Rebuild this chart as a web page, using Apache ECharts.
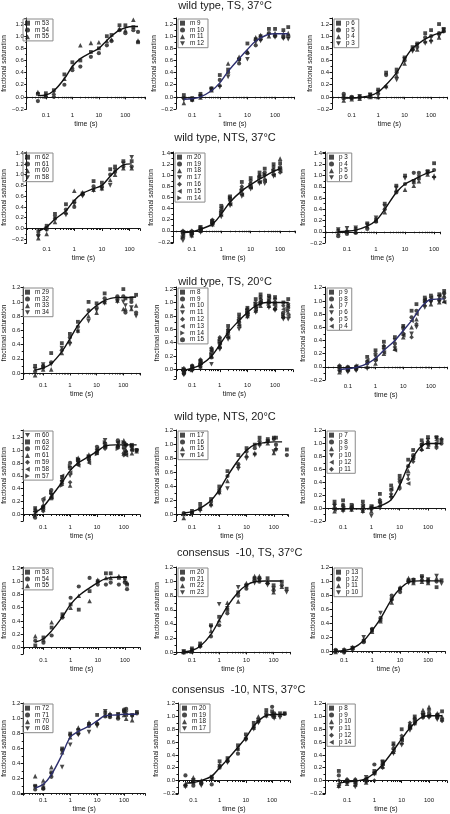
<!DOCTYPE html>
<html><head><meta charset="utf-8">
<script src="https://cdn.jsdelivr.net/npm/echarts@6/dist/echarts.min.js"></script>
<style>html,body{margin:0;padding:0;background:#fff}#c{width:450px;height:814px}</style>
</head><body><div id="c"></div>
<script>
// ---------------- DATA ----------------
const rowTitles = ['wild type, TS, 37°C','wild type, NTS, 37°C','wild type, TS, 20°C','wild type, NTS, 20°C','consensus  -10, TS, 37°C','consensus  -10, NTS, 37°C'];
const xTickLabels = [0.1, 1, 10, 100];

const r1c1Names = ['m 53','m 54','m 55'];
const r1c1Times = [0.05,0.1,0.2,0.5,1,2,5,10,20,30,60,100,200,300];
const r1c1Vals = [
 [0.05,0.06,0.11,0.37,0.57,0.6,0.74,0.8,1.0,1.02,1.18,1.18,1.15,0.9],
 [-0.07,0.0,0.0,0.2,0.44,0.5,0.66,0.72,0.85,0.92,1.1,1.05,1.1,1.07],
 [0.08,0.03,0.07,0.3,0.5,0.85,0.89,0.9,0.92,0.95,1.12,1.1,1.27,0.93]];
const r1c1FitT = [0.05,0.1,0.2,0.5,1,2,5,10,20,50,100,200,300];
const r1c1FitY = [0.02,0.03,0.1,0.3,0.5,0.63,0.73,0.8,0.93,1.08,1.14,1.16,1.16];

const r1c2Names = ['m 9','m 10','m 11','m 12'];
const r1c2Times = [0.05,0.1,0.2,0.5,1,2,5,10,20,30,60,100,200,300];
const r1c2Vals = [
 [0.03,-0.02,0.05,0.12,0.36,0.45,0.62,0.88,0.95,1.0,1.12,1.12,1.1,1.15],
 [-0.02,-0.05,0.02,0.14,0.28,0.4,0.55,0.72,0.85,0.95,1.05,1.0,0.98,1.0],
 [-0.1,-0.04,-0.01,0.11,0.2,0.55,0.66,0.75,0.98,1.02,1.0,1.05,1.04,1.05],
 [-0.05,-0.06,0.0,0.13,0.16,0.33,0.6,0.62,0.9,0.92,1.02,0.98,0.96,0.95]];
const r1c2FitT = [0.05,0.1,0.2,0.5,1,2,5,10,20,50,100,300];
const r1c2FitY = [-0.04,-0.03,0.0,0.1,0.23,0.42,0.63,0.78,0.92,1.02,1.04,1.04];

const r1c3Names = ['p 6','p 5','p 4','p 3'];
const r1c3Times = [0.05,0.1,0.2,0.5,1,2,5,10,20,30,60,100,200,300];
const r1c3Vals = [
 [-0.02,-0.02,-0.01,0.04,0.12,0.4,0.45,0.65,0.82,0.88,1.05,1.1,1.2,1.12],
 [0.05,0.0,0.0,0.01,0.05,0.36,0.4,0.6,0.78,0.82,0.98,1.0,1.05,1.08],
 [-0.06,-0.04,-0.03,0.0,0.0,0.18,0.35,0.55,0.8,0.78,0.92,0.95,0.98,1.1],
 [0.0,-0.02,0.01,0.03,0.08,0.15,0.28,0.62,0.75,0.85,0.88,0.9,1.0,1.1]];
const r1c3FitT = [0.05,0.1,0.2,0.5,1,2,5,10,20,50,100,200,300];
const r1c3FitY = [-0.02,-0.02,-0.01,0.02,0.08,0.2,0.4,0.62,0.8,0.93,1.0,1.05,1.07];

const r2c1Names = ['m 62','m 61','m 60','m 58'];
const r2c1Times = [0.05,0.1,0.2,0.5,1,2,5,10,20,30,60,120];
const r2c1Vals = [
 [-0.05,0.05,0.27,0.45,0.5,0.65,0.88,0.85,1.1,1.15,1.25,1.25],
 [-0.12,-0.02,0.18,0.35,0.4,0.63,0.78,0.78,1.0,1.05,1.15,1.15],
 [-0.18,-0.1,0.12,0.3,0.7,0.67,0.72,0.75,0.9,1.0,1.12,1.12],
 [-0.15,0.0,0.2,0.25,0.45,0.6,0.7,0.73,0.8,1.08,1.2,1.32]];
const r2c1FitT = [0.05,0.1,0.2,0.5,1,2,5,10,20,30,60,120];
const r2c1FitY = [-0.05,0.03,0.17,0.33,0.52,0.65,0.74,0.8,0.97,1.06,1.18,1.2];

const r2c2Names = ['m 20','m 19','m 18','m 17','m 16','m 15','m 14'];
const r2c2Times = [0.05,0.1,0.2,0.5,1,2,5,10,20,30,60,100];
const r2c2Vals = [
 [-0.02,-0.02,0.07,0.18,0.45,0.62,0.88,0.95,1.05,1.12,1.2,1.22],
 [-0.05,-0.05,0.03,0.15,0.38,0.55,0.75,0.85,0.98,1.05,1.1,1.15],
 [-0.1,-0.08,0.0,0.12,0.3,0.5,0.7,0.8,0.9,0.95,1.05,1.3],
 [-0.18,-0.1,-0.03,0.1,0.25,0.45,0.62,0.75,0.85,0.85,0.98,1.1],
 [0.0,0.0,0.05,0.2,0.35,0.58,0.8,0.9,1.0,1.0,1.15,1.05],
 [-0.08,-0.03,0.02,0.14,0.42,0.48,0.65,0.78,0.88,0.9,1.0,1.08],
 [-0.12,-0.06,0.06,0.16,0.32,0.6,0.72,0.82,0.95,1.02,1.08,1.12]];
const r2c2FitT = [0.05,0.1,0.2,0.5,1,2,5,10,20,50,100];
const r2c2FitY = [-0.03,-0.02,0.03,0.12,0.3,0.52,0.72,0.83,0.93,1.05,1.12];

const r2c3Names = ['p 3','p 4','p 5','p 6'];
const r2c3Times = [0.05,0.1,0.2,0.5,1,2,5,10,20,30,60,100];
const r2c3Vals = [
 [0.02,0.0,0.05,0.15,0.22,0.5,0.82,1.0,0.88,0.95,1.08,1.22],
 [-0.08,-0.04,-0.02,0.05,0.18,0.4,0.7,0.85,1.05,1.05,1.05,1.1],
 [-0.02,0.02,0.0,0.1,0.2,0.35,0.75,0.75,0.82,0.9,1.02,1.0],
 [0.04,0.06,0.07,0.12,0.25,0.45,0.78,0.95,0.9,0.98,1.06,0.95]];
const r2c3FitT = [0.05,0.1,0.2,0.5,1,2,5,10,20,50,100];
const r2c3FitY = [0.0,0.01,0.03,0.1,0.2,0.4,0.7,0.85,0.93,1.03,1.08];

const r3c1Names = ['m 29','m 32','m 33','m 34'];
const r3c1Times = [0.05,0.1,0.2,0.5,1,2,5,10,20,60,100,120,200,300];
const r3c1Vals = [
 [0.1,0.08,0.28,0.42,0.55,0.72,1.0,0.98,1.12,1.05,1.18,1.05,1.05,1.1],
 [0.02,0.1,0.15,0.32,0.5,0.65,0.88,0.92,1.05,1.08,1.08,0.85,1.0,0.85],
 [-0.03,0.05,0.05,0.28,0.45,0.6,0.8,0.85,1.0,1.02,0.9,0.9,0.9,0.95],
 [0.05,0.12,0.12,0.35,0.4,0.58,0.73,0.88,0.98,1.0,1.0,0.95,0.92,0.8]];
const r3c1FitT = [0.05,0.1,0.2,0.5,1,2,5,10,20,50,100,300];
const r3c1FitY = [0.04,0.07,0.13,0.3,0.48,0.67,0.85,0.95,1.02,1.06,1.06,1.07];

const r3c2Names = ['m 8','m 9','m 10','m 11','m 12','m 13','m 14','m 15'];
const r3c2Times = [0.05,0.1,0.2,0.5,1,2,5,10,20,30,60,100,200,300];
const r3c2Vals = [
 [-0.01,0.05,0.12,0.3,0.45,0.65,0.82,0.92,1.05,1.12,1.1,1.08,1.0,1.05],
 [-0.05,0.0,0.08,0.25,0.38,0.55,0.75,0.85,0.95,1.0,1.0,1.0,0.85,0.92],
 [0.0,0.03,0.05,0.2,0.35,0.5,0.68,0.8,0.88,0.95,0.95,0.92,0.8,0.85],
 [-0.08,-0.02,0.02,0.08,0.3,0.45,0.6,0.78,0.85,0.98,0.92,0.88,0.75,0.75],
 [0.02,0.06,0.15,0.32,0.48,0.6,0.78,0.9,1.0,1.05,1.05,1.05,0.95,0.98],
 [-0.03,0.02,0.1,0.28,0.4,0.48,0.65,0.82,0.9,1.02,1.08,0.95,0.9,0.8],
 [0.01,-0.01,0.07,0.22,0.42,0.52,0.72,0.88,0.98,0.97,0.98,0.98,0.82,0.88],
 [-0.06,0.04,0.13,0.18,0.33,0.58,0.7,0.84,0.93,1.08,1.02,0.9,0.78,0.95]];
const r3c2FitT = [0.05,0.1,0.2,0.5,1,2,5,10,20,50,100,300];
const r3c2FitY = [-0.01,0.02,0.07,0.2,0.37,0.55,0.73,0.85,0.95,1.0,1.0,1.0];

const r3c3Names = ['p 9','p 8','p 7','p 6','p 5','p 4'];
const r3c3Times = [0.05,0.1,0.2,0.5,1,2,5,10,20,30,60,100,200,300];
const r3c3Vals = [
 [0.0,-0.01,0.0,0.15,0.25,0.38,0.45,0.62,0.85,0.95,1.05,1.08,1.1,1.15],
 [-0.05,-0.06,-0.04,0.05,0.1,0.3,0.35,0.5,0.75,0.85,1.0,1.0,1.02,1.05],
 [-0.08,-0.03,0.02,0.0,0.05,0.2,0.28,0.45,0.6,0.72,0.95,0.95,0.98,1.0],
 [-0.03,-0.08,-0.06,-0.03,0.15,0.25,0.4,0.55,0.5,0.6,0.9,0.98,1.05,1.08],
 [0.02,0.0,-0.02,0.08,0.2,0.32,0.3,0.6,0.45,0.65,0.98,1.02,1.0,1.12],
 [-0.06,-0.04,0.01,0.1,0.12,0.22,0.25,0.48,0.7,0.8,1.02,1.05,1.08,0.98]];
const r3c3FitT = [0.05,0.1,0.2,0.5,1,2,5,10,20,50,100,300];
const r3c3FitY = [-0.04,-0.03,-0.01,0.05,0.13,0.25,0.4,0.55,0.7,0.93,1.02,1.03];

const r4c1Names = ['m 60','m 63','m 62','m 61','m 59','m 58','m 57'];
const r4c1Times = [0.05,0.1,0.2,0.5,1,2,5,10,20,60,100,120,200,300];
const r4c1Vals = [
 [0.02,0.2,0.3,0.5,0.6,0.8,0.82,0.98,1.15,1.1,1.0,1.05,1.02,0.98],
 [0.1,0.12,0.25,0.58,0.72,0.85,0.9,0.95,1.05,1.05,1.05,0.95,1.08,1.0],
 [-0.05,0.08,0.38,0.48,0.8,0.78,0.88,1.05,1.1,1.15,0.95,1.08,1.0,1.0],
 [0.08,0.15,0.28,0.55,0.45,0.88,0.93,1.0,1.08,1.08,1.15,1.0,0.95,0.98],
 [0.0,0.05,0.32,0.52,0.5,0.82,0.85,0.97,1.02,1.05,0.92,0.98,1.05,null],
 [0.05,0.25,0.27,0.6,0.65,0.76,0.8,1.02,1.06,1.12,1.1,0.92,1.0,null],
 [-0.02,0.1,0.35,0.45,0.75,0.86,0.9,0.94,1.12,1.02,1.12,1.1,1.07,null]];
const r4c1FitT = [0.05,0.1,0.2,0.5,1,2,5,10,20,50,100,300];
const r4c1FitY = [0.03,0.12,0.28,0.5,0.68,0.8,0.9,0.98,1.06,1.08,1.08,1.08];

const r4c2Names = ['m 17','m 16','m 15','m 14'];
const r4c2Times = [0.05,0.1,0.2,0.5,1,2,5,10,20,30,60,100,120,300];
const r4c2Vals = [
 [0.0,0.05,0.15,0.22,0.4,0.62,0.85,0.95,1.0,1.1,1.08,1.1,1.1,0.93],
 [0.02,0.02,0.1,0.18,0.35,0.55,0.72,0.9,0.95,1.05,1.05,1.08,1.0,0.85],
 [-0.05,0.03,0.08,0.15,0.32,0.48,0.7,0.85,0.88,1.02,1.02,0.88,0.95,null],
 [-0.1,0.0,0.05,0.12,0.3,0.37,0.65,0.8,0.85,0.98,1.04,0.9,0.92,null]];
const r4c2FitT = [0.05,0.1,0.2,0.5,1,2,5,10,20,50,100,200];
const r4c2FitY = [0.02,0.04,0.09,0.2,0.35,0.55,0.78,0.92,1.0,1.03,1.04,1.04];

const r4c3Names = ['p 7','p 8','p 9','p 10','p 12','p 11'];
const r4c3Times = [0.05,0.1,0.2,0.5,1,2,5,10,20,30,60,100,200,300];
const r4c3Vals = [
 [0.1,0.12,0.05,0.1,0.03,0.22,0.35,0.5,0.75,0.9,1.05,1.1,1.1,1.05],
 [0.0,0.05,0.0,0.0,0.0,0.1,0.28,0.45,0.65,0.82,0.98,1.0,1.0,1.0],
 [-0.05,-0.02,-0.02,-0.04,-0.05,0.05,0.2,0.35,0.58,0.78,0.92,0.95,0.98,null],
 [0.03,-0.05,-0.03,-0.06,-0.12,0.0,0.15,0.38,0.5,0.75,0.95,1.05,1.08,null],
 [-0.02,0.0,0.03,0.03,0.02,0.08,0.3,0.42,0.38,0.8,1.0,0.98,1.05,null],
 [0.06,0.03,0.01,0.05,-0.02,0.13,0.22,0.3,0.45,0.72,0.9,1.03,0.93,1.07]];
const r4c3FitT = [0.05,0.1,0.2,0.5,1,2,5,10,20,50,100,300];
const r4c3FitY = [-0.01,-0.01,-0.01,-0.01,0.0,0.03,0.13,0.35,0.65,0.93,1.0,1.0];

const r5c1Names = ['m 53','m 54','m 55'];
const r5c1Times = [0.05,0.1,0.2,0.5,1,2,5,10,20,30,60,100,120];
const r5c1Vals = [
 [0.03,0.15,0.3,0.5,0.65,0.57,0.85,1.0,1.12,1.12,1.05,1.05,0.95],
 [0.1,0.07,0.18,0.45,0.75,0.92,1.05,0.95,0.95,0.98,0.95,0.98,0.88],
 [0.17,0.12,0.38,0.48,0.6,0.78,0.7,1.02,1.05,1.05,1.08,1.02,0.98]];
const r5c1FitT = [0.05,0.1,0.2,0.5,1,2,5,10,20,50,120];
const r5c1FitY = [0.08,0.13,0.25,0.46,0.65,0.78,0.9,0.98,1.04,1.06,1.06];

const r5c2Names = ['m 20','m 21','m 22','m 23'];
const r5c2Times = [0.05,0.1,0.2,0.5,1,2,5,10,20,30,60,100,200,300];
const r5c2Vals = [
 [0.01,0.05,0.12,0.38,0.5,0.6,0.85,0.95,1.05,1.05,1.05,0.95,1.0,0.9],
 [-0.01,0.0,0.08,0.22,0.38,0.55,0.8,0.9,1.02,1.0,0.98,0.88,0.95,null],
 [0.0,0.03,0.1,0.3,0.45,0.7,0.72,0.98,1.08,1.08,1.0,0.85,0.93,null],
 [0.0,0.02,0.07,0.35,0.68,0.62,0.92,0.93,0.98,1.02,0.95,0.9,null,0.85]];
const r5c2FitT = [0.05,0.1,0.2,0.5,1,2,5,10,20,50,100,200];
const r5c2FitY = [0.0,0.02,0.08,0.25,0.45,0.65,0.85,0.95,1.0,1.01,1.01,1.01];

const r5c3Names = ['p 13','p 12','p 11','p 10'];
const r5c3Times = [0.05,0.1,0.2,0.5,1,2,5,10,20,30,60,100,200,300];
const r5c3Vals = [
 [0.0,0.0,0.05,0.15,0.3,0.45,0.75,0.9,1.02,1.0,1.08,1.0,0.92,1.02],
 [0.02,-0.02,0.03,0.13,0.32,0.48,0.8,0.85,1.0,1.03,1.02,1.02,1.0,null],
 [-0.01,0.03,0.06,0.17,0.28,0.43,0.7,0.92,1.05,0.98,1.0,0.98,1.05,null],
 [0.0,0.01,0.04,0.2,0.3,0.55,0.72,0.88,0.98,1.02,1.05,1.03,1.08,0.97]];
const r5c3FitT = [0.05,0.1,0.2,0.5,1,2,5,10,20,50,100,300];
const r5c3FitY = [0.0,0.01,0.04,0.15,0.3,0.47,0.75,0.9,0.99,1.01,1.01,1.01];

const r6c1Names = ['m 72','m 71','m 70','m 68'];
const r6c1Times = [0.05,0.1,0.2,0.5,1,2,5,10,20,30,60,100,120,200,300];
const r6c1Vals = [
 [0.1,0.07,0.28,0.6,0.8,0.85,0.93,1.05,1.08,1.05,1.05,1.1,1.05,1.05,1.09],
 [0.05,0.06,0.22,0.58,0.78,0.8,0.9,0.93,1.03,1.02,1.0,1.12,1.13,null,1.07],
 [0.23,0.17,0.35,0.55,0.75,0.88,0.95,0.95,1.05,1.07,1.03,1.05,1.0,0.98,null],
 [0.08,0.1,0.25,0.35,0.65,0.78,0.82,0.9,1.1,1.03,1.06,1.08,1.08,1.02,null]];
const r6c1FitT = [0.05,0.1,0.2,0.5,1,2,5,10,20,50,100,300];
const r6c1FitY = [0.07,0.12,0.25,0.52,0.75,0.83,0.9,0.97,1.04,1.05,1.06,1.06];

const r6c2Names = ['m 20','m 19','m 18','m 17'];
const r6c2Times = [0.05,0.1,0.2,0.5,1,2,5,10,20,30,60,100,120,200,300];
const r6c2Vals = [
 [-0.08,-0.03,-0.02,0.06,0.3,0.35,0.55,0.72,0.9,0.95,1.1,1.08,1.02,1.05,1.05],
 [0.08,-0.08,-0.05,-0.06,0.2,0.3,0.42,0.65,0.85,0.92,1.05,1.15,1.05,null,1.04],
 [-0.05,0.05,0.0,0.05,0.25,0.33,0.5,0.68,0.83,1.0,1.02,1.05,1.0,1.03,null],
 [-0.1,0.0,-0.08,0.02,0.22,0.28,0.48,0.63,0.8,0.9,1.0,1.0,0.97,0.98,null]];
const r6c2FitT = [0.05,0.1,0.2,0.5,1,2,5,10,20,50,100,300];
const r6c2FitY = [-0.04,-0.03,0.0,0.07,0.2,0.33,0.52,0.67,0.85,1.0,1.03,1.03];

const r6c3Names = ['p 8','p 9','p 10','p 11','p 12','p 14'];
const r6c3Times = [0.05,0.1,0.2,0.5,1,2,5,10,20,30,60,100,200,300];
const r6c3Vals = [
 [0.15,-0.02,-0.03,0.02,0.15,0.3,0.58,0.8,0.85,1.0,1.0,1.05,1.02,1.08],
 [0.08,0.0,0.0,0.0,0.25,0.25,0.5,0.65,0.82,0.95,1.05,1.0,0.98,0.95],
 [-0.08,-0.05,-0.06,-0.03,0.12,0.22,0.45,0.6,0.88,0.9,1.1,1.15,1.05,1.0],
 [-0.1,-0.03,-0.1,0.05,0.1,0.28,0.42,0.55,0.78,0.88,1.02,0.98,0.95,null],
 [0.0,0.02,0.02,-0.02,0.0,0.2,0.55,0.7,0.9,0.97,0.98,1.1,1.0,0.93],
 [-0.05,-0.01,-0.04,0.03,0.13,0.26,0.48,0.63,0.83,0.92,1.03,1.02,1.03,null]];
const r6c3FitT = [0.05,0.1,0.2,0.5,1,2,5,10,20,50,100,300];
const r6c3FitY = [-0.04,-0.02,-0.01,0.03,0.12,0.25,0.47,0.65,0.82,0.98,1.01,1.01];

// ---------------- LAYOUT / STYLE ----------------
const SQ='rect', CI='circle', TR='triangle', DI='diamond', HX='circle';
const DT='path://M0,0L10,0L5,9Z', LT='path://M9,0L9,10L0,5Z', RT='path://M0,0L9,5L0,10Z';
const SYM_DEFAULT=[SQ,CI,TR,DT,DI,LT,RT,HX];
const NAVY='#2c2e6e', BLK='#111';
const panels = [
 {id:'r1c1',n:r1c1Names,t:r1c1Times,v:r1c1Vals,ft:r1c1FitT,fy:r1c1FitY,g:[21,18,145,109],x:[0.019,550],y:[-0.2,1.3]},
 {id:'r1c2',n:r1c2Names,t:r1c2Times,v:r1c2Vals,ft:r1c2FitT,fy:r1c2FitY,g:[176,18,294,109],x:[0.026,485],y:[-0.2,1.3],lc:NAVY},
 {id:'r1c3',n:r1c3Names,t:r1c3Times,v:r1c3Vals,ft:r1c3FitT,fy:r1c3FitY,g:[332,18,447,109],x:[0.018,400],y:[-0.2,1.3]},
 {id:'r2c1',n:r2c1Names,t:r2c1Times,v:r2c1Vals,ft:r2c1FitT,fy:r2c1FitY,g:[21,152,140,243],x:[0.019,240],y:[-0.27,1.42]},
 {id:'r2c2',n:r2c2Names,t:r2c2Times,v:r2c2Vals,ft:r2c2FitT,fy:r2c2FitY,g:[173,152,295,243],x:[0.023,320],y:[-0.22,1.42]},
 {id:'r2c3',n:r2c3Names,t:r2c3Times,v:r2c3Vals,ft:r2c3FitT,fy:r2c3FitY,g:[325,152,440,243],x:[0.0175,160],y:[-0.2,1.42]},
 {id:'r3c1',n:r3c1Names,t:r3c1Times,v:r3c1Vals,ft:r3c1FitT,fy:r3c1FitY,g:[21,287,140,379],x:[0.018,420],y:[-0.085,1.21]},
 {id:'r3c2',n:r3c2Names,t:r3c2Times,v:r3c2Vals,ft:r3c2FitT,fy:r3c2FitY,g:[176,287,293,379],x:[0.026,447],y:[-0.14,1.23]},
 {id:'r3c3',n:r3c3Names,t:r3c3Times,v:r3c3Vals,ft:r3c3FitT,fy:r3c3FitY,g:[325,287,447,380],x:[0.015,380],y:[-0.2,1.21],lc:NAVY},
 {id:'r4c1',n:r4c1Names,t:r4c1Times,v:r4c1Vals,ft:r4c1FitT,fy:r4c1FitY,g:[21,430,140,521],x:[0.018,400],y:[-0.1,1.31],sym:[DT,SQ,CI,TR,DI,LT,RT]},
 {id:'r4c2',n:r4c2Names,t:r4c2Times,v:r4c2Vals,ft:r4c2FitT,fy:r4c2FitY,g:[176,430,288,521],x:[0.026,330],y:[-0.095,1.21]},
 {id:'r4c3',n:r4c3Names,t:r4c3Times,v:r4c3Vals,ft:r4c3FitT,fy:r4c3FitY,g:[325,430,445,521],x:[0.023,400],y:[-0.2,1.21],sym:[SQ,CI,TR,DT,LT,DI]},
 {id:'r5c1',n:r5c1Names,t:r5c1Times,v:r5c1Vals,ft:r5c1FitT,fy:r5c1FitY,g:[21,567,140,654],x:[0.018,360],y:[-0.1,1.215]},
 {id:'r5c2',n:r5c2Names,t:r5c2Times,v:r5c2Vals,ft:r5c2FitT,fy:r5c2FitY,g:[176,567,290,654],x:[0.026,400],y:[-0.03,1.21]},
 {id:'r5c3',n:r5c3Names,t:r5c3Times,v:r5c3Vals,ft:r5c3FitT,fy:r5c3FitY,g:[332,567,445,654],x:[0.037,400],y:[-0.04,1.21]},
 {id:'r6c1',n:r6c1Names,t:r6c1Times,v:r6c1Vals,ft:r6c1FitT,fy:r6c1FitY,g:[21,703,145,798],x:[0.018,600],y:[-0.01,1.21],lc:NAVY},
 {id:'r6c2',n:r6c2Names,t:r6c2Times,v:r6c2Vals,ft:r6c2FitT,fy:r6c2FitY,g:[178,703,290,798],x:[0.026,480],y:[-0.21,1.21]},
 {id:'r6c3',n:r6c3Names,t:r6c3Times,v:r6c3Vals,ft:r6c3FitT,fy:r6c3FitY,g:[325,703,447,798],x:[0.0156,455],y:[-0.21,1.21]}
];
const titleTops = [0, 132, 276, 411, 547, 684];
const titleLefts = ['center','center','center','center',177,172];
const FONT = 'Liberation Sans, Arial, sans-serif';
const INK = '#151515';

const grid=[], xAxis=[], yAxis=[], series=[], legend=[];
panels.forEach((p,i)=>{
  const [l,t,r,b]=p.g;
  grid.push({left:l, top:t, width:r-l, height:b-t, containLabel:false});
  xAxis.push({type:'log', logBase:10, gridIndex:i, min:p.x[0], max:p.x[1],
    name:'time (s)', nameLocation:'middle', nameGap:12,
    nameTextStyle:{fontSize:7, color:INK, fontFamily:FONT},
    axisLine:{lineStyle:{color:INK, width:1}},
    axisTick:{length:2.5, lineStyle:{color:INK}},
    minorTick:{show:true, splitNumber:9, length:1.5, lineStyle:{color:INK}},
    splitLine:{show:false}, minorSplitLine:{show:false},
    axisLabel:{margin:3, fontSize:6, color:INK, fontFamily:FONT, interval:0, showMinLabel:true, showMaxLabel:true,
      formatter:v=>{ const hit = xTickLabels.find(d=>Math.abs(v-d)/d<1e-6); return hit===undefined?'':String(hit); }}
  });
  yAxis.push({type:'value', gridIndex:i, min:p.y[0], max:p.y[1], splitNumber:7,
    name:'fractional saturation', nameLocation:'middle', nameGap:13,
    nameTextStyle:{fontSize:6.5, color:INK, fontFamily:FONT},
    axisLine:{show:true, lineStyle:{color:INK, width:1}},
    axisTick:{show:true, length:2.5, lineStyle:{color:INK}},
    minorTick:{show:true, splitNumber:2, length:1.5, lineStyle:{color:INK}},
    splitLine:{show:false},
    axisLabel:{margin:3, fontSize:6, color:INK, fontFamily:FONT,
      formatter:v=>{ const k=v*5; if(Math.abs(k-Math.round(k))>1e-6) return ''; const s=Math.abs(v).toFixed(1); return v< -1e-9 ? '\u2212'+s : s; }}
  });
  const syms = p.sym || SYM_DEFAULT;
  const lnames=[];
  p.n.forEach((nm,s)=>{
    const full = nm+'#'+p.id;
    lnames.push(full);
    const data=[];
    p.t.forEach((tt,k)=>{ const val=p.v[s][k]; if(val!==null && val!==undefined) data.push([tt,val]); });
    const sym = syms[s];
    series.push({type:'scatter', name:full, xAxisIndex:i, yAxisIndex:i, data,
      symbol:sym, symbolSize: sym===SQ?3.8:(sym===CI?4.2:4.6),
      itemStyle:{color:'#1c1c1c'}, silent:true, z:3});
  });
  series.push({type:'line', name:'fit#'+p.id, xAxisIndex:i, yAxisIndex:i,
    data:p.ft.map((tt,k)=>[tt,p.fy[k]]), smooth:0.35, showSymbol:false, symbol:'none',
    lineStyle:{color:p.lc||BLK, width:1.4}, itemStyle:{color:p.lc||BLK}, silent:true, z:4});
  legend.push({orient:'vertical', left:l+2, top:t+1, data:lnames,
    formatter:n=>n.split('#')[0], selectedMode:false,
    borderColor:'#8a8a8a', borderWidth:1, padding:[1,4,1,2], itemGap:0.5,
    itemWidth:5, itemHeight:5, textStyle:{fontSize:6.3, color:INK, fontFamily:FONT, lineHeight:6.3}});
});

const title = rowTitles.map((tx,i)=>({text:tx, left:titleLefts[i], top:titleTops[i], padding:0,
  textStyle:{fontSize:11, fontWeight:'normal', color:'#1a1a1a', fontFamily:FONT}}));

const chart = echarts.init(document.getElementById('c'), null, {renderer:'canvas'});
chart.setOption({animation:false, backgroundColor:'#fff', title, grid, xAxis, yAxis, series, legend});
</script>
</body></html>
